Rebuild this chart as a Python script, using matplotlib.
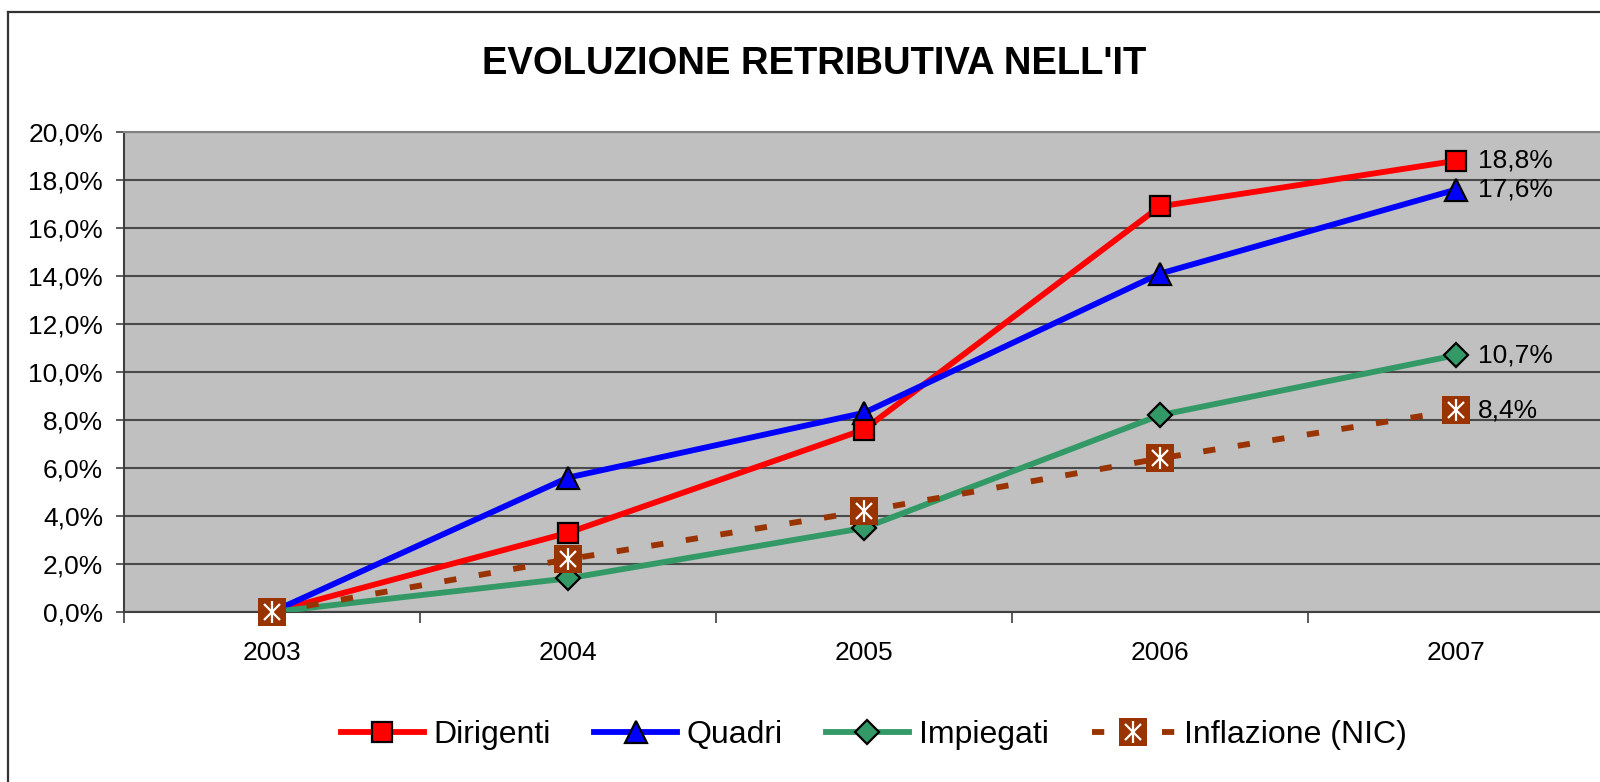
import matplotlib.pyplot as plt
from matplotlib.lines import Line2D
from matplotlib.legend_handler import HandlerTuple

plt.rcParams['font.family'] = ['Liberation Sans', 'DejaVu Sans']

years = [2003, 2004, 2005, 2006, 2007]
dirigenti = [0.0, 3.3, 7.6, 16.9, 18.8]
quadri = [0.0, 5.6, 8.3, 14.1, 17.6]
impiegati = [0.0, 1.4, 3.5, 8.2, 10.7]
inflazione = [0.0, 2.2, 4.2, 6.4, 8.4]
y_ticks = [0, 2, 4, 6, 8, 10, 12, 14, 16, 18, 20]

def pct(v):
    return f'{v:.1f}%'.replace('.', ',')

W, H = 1600, 782
fig = plt.figure(figsize=(W / 100, H / 100), dpi=100)
fig.patch.set_facecolor('white')

# outer chart frame (cropped on right and bottom)
fig.add_artist(Line2D([8 / W, 8 / W], [0, 1 - 12 / H], color='#333333', lw=1.6))
fig.add_artist(Line2D([8 / W, 1], [1 - 12 / H, 1 - 12 / H], color='#333333', lw=1.6))

ax = fig.add_axes([124 / W, 1 - 612 / H, 1480 / W, 480 / H])
ax.set_facecolor('#C0C0C0')
ax.set_xlim(2002.5, 2007.5)
ax.set_ylim(0, 20)

for s in ['top', 'right']:
    ax.spines[s].set_color('#808080')
    ax.spines[s].set_linewidth(1.5)
for s in ['left', 'bottom']:
    ax.spines[s].set_color('#404040')
    ax.spines[s].set_linewidth(1.5)

ax.set_yticks(y_ticks, [pct(v) for v in y_ticks])
ax.yaxis.grid(True, color='#4a4a4a', lw=1.5)
ax.set_axisbelow(True)
ax.tick_params(axis='y', length=6, width=1.2, color='#404040', labelsize=19, pad=9)

ax.set_xticks(years, [str(y) for y in years])
ax.set_xticks([y - 0.5 for y in years] + [years[-1] + 0.5], minor=True)
ax.tick_params(axis='x', which='major', length=0, labelsize=19, pad=21)
ax.tick_params(axis='x', which='minor', length=8, width=1.2, color='#404040')

lw = 4.2
red, blue, green, brown = '#FF0000', '#0000FF', '#339966', '#993300'

# lines
ax.plot(years, dirigenti, color=red, lw=lw, zorder=3, solid_capstyle='butt')
ax.plot(years, quadri, color=blue, lw=lw, zorder=3, solid_capstyle='butt')
ax.plot(years, impiegati, color=green, lw=lw, zorder=3, solid_capstyle='butt')
ax.plot(years, inflazione, color=brown, lw=lw, zorder=3, dashes=(2.1, 3.9),
        dash_capstyle='butt')

# markers
mk = dict(ls='none', clip_on=False)
ax.plot(years, quadri, marker='^', ms=16, mfc=blue, mec='black', mew=1.6, zorder=4, **mk)
ax.plot(years, impiegati, marker='D', ms=12, mfc=green, mec='black', mew=1.6, zorder=4, **mk)
ax.plot(years, dirigenti, marker='s', ms=14, mfc=red, mec='black', mew=1.6, zorder=5, **mk)
ax.plot(years, inflazione, marker='s', ms=20, mfc=brown, mec=brown, mew=0, zorder=6, **mk)
ax.plot(years, inflazione, marker='x', ms=12, mec='white', mew=1.6, zorder=7, **mk)
ax.plot(years, inflazione, marker='|', ms=16, mec='white', mew=1.6, zorder=7, **mk)

# data labels at last point
for series in [dirigenti, quadri, impiegati, inflazione]:
    ax.annotate(pct(series[-1]), (years[-1], series[-1]), xytext=(16, 0),
                textcoords='offset points', va='center', ha='left', fontsize=19,
                zorder=8)

fig.text(814 / W, 1 - 64 / H, "EVOLUZIONE RETRIBUTIVA NELL'IT", ha='center', va='center',
         fontsize=27.5, fontweight='bold')

h_dir = Line2D([], [], color=red, lw=lw, marker='s', ms=14, mfc=red, mec='black', mew=1.6)
h_qua = Line2D([], [], color=blue, lw=lw, marker='^', ms=16, mfc=blue, mec='black', mew=1.6)
h_imp = Line2D([], [], color=green, lw=lw, marker='D', ms=12, mfc=green, mec='black', mew=1.6)
h_inf1 = Line2D([], [], color=brown, lw=lw, dashes=(2.1, 3.9), dash_capstyle='butt',
                marker='s', ms=20, mfc=brown, mec=brown, mew=0)
h_inf2 = Line2D([], [], ls='none', marker='x', ms=12, mec='white', mew=1.6)
h_inf3 = Line2D([], [], ls='none', marker='|', ms=16, mec='white', mew=1.6)

fig.legend([h_dir, h_qua, h_imp, (h_inf1, h_inf2, h_inf3)],
           ['Dirigenti', 'Quadri', 'Impiegati', 'Inflazione (NIC)'],
           handler_map={tuple: HandlerTuple(ndivide=1)},
           loc='center', bbox_to_anchor=(874 / W, 1 - 735 / H), ncol=4, frameon=False,
           fontsize=23, handlelength=2.6, handletextpad=0.3, columnspacing=1.35)

fig.savefig('out.png', dpi=100)
